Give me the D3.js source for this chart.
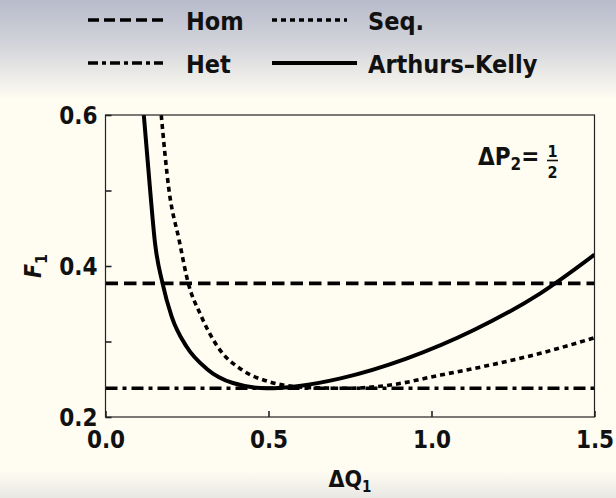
<!DOCTYPE html>
<html>
<head>
<meta charset="utf-8">
<script src="https://cdn.jsdelivr.net/npm/d3@7"></script>
<style>
  body { margin: 0; }
  text { font-family: 'DejaVu Sans Condensed', 'DejaVu Sans', sans-serif; font-weight: bold; fill: #111; }
</style>
</head>
<body>
<svg id="chart" width="616" height="498"></svg>
<script>
// Fidelity F1 versus ΔQ1 at ΔP2 = 1/2
const homLevel = 0.377;
const hetLevel = 0.238;

const akQ = [0.1175, 0.137, 0.152, 0.175, 0.203, 0.249, 0.310, 0.391, 0.494, 0.60, 0.721, 0.925, 1.130, 1.334, 1.500];
const akF = [0.600, 0.500, 0.430, 0.377, 0.333, 0.293, 0.264, 0.245, 0.238, 0.2415, 0.2512, 0.2777, 0.3152, 0.3638, 0.4150];

const seqQ = [0.171, 0.194, 0.226, 0.254, 0.291, 0.344, 0.420, 0.500, 0.576, 0.66, 0.74, 0.874, 1.028, 1.181, 1.334, 1.500];
const seqF = [0.600, 0.503, 0.434, 0.377, 0.336, 0.293, 0.262, 0.247, 0.2405, 0.2385, 0.238, 0.2424, 0.2556, 0.2689, 0.2844, 0.3050];

const xTicks = [0, 0.5, 1.0, 1.5];
const yTicks = [0.2, 0.3, 0.4, 0.5, 0.6];
const yLabelled = [0.2, 0.4, 0.6];

const legendNames = ["Hom", "Seq.", "Het", "Arthurs\u2013Kelly"];

const W = 616, H = 498;
const margin = { left: 105.5, right: 616 - 594.5, top: 115, bottom: 498 - 417 };

const svg = d3.select("#chart");

// page background: cool grey at the top fading to cream, light grey at the foot
const defs = svg.append("defs");
const grad = defs.append("linearGradient").attr("id", "bg").attr("x1", 0).attr("y1", 0).attr("x2", 0).attr("y2", 1);
[[0, "#b7bbcb"], [0.09, "#d3d4da"], [0.2, "#fffdf2"], [0.945, "#fffdf2"], [1, "#e8e7e3"]]
  .forEach(([o, c]) => grad.append("stop").attr("offset", o).attr("stop-color", c));
svg.append("rect").attr("width", W).attr("height", H).attr("fill", "url(#bg)");

const x = d3.scaleLinear().domain([0, 1.5]).range([margin.left, W - margin.right]);
const y = d3.scaleLinear().domain([0.2, 0.6]).range([H - margin.bottom, margin.top]);

defs.append("clipPath").attr("id", "plot")
  .append("rect")
  .attr("x", x(0)).attr("y", y(0.6))
  .attr("width", x(1.5) - x(0)).attr("height", y(0.2) - y(0.6));

const styles = {
  "Hom": { dash: "12.5,6", legendDash: "11,5", width: 3.6 },
  "Seq.": { dash: "5,4", legendDash: "5,4", width: 3.6 },
  "Het": { dash: "12,5,4,5", legendDash: "10,4,4,4", width: 3.6 },
  "Arthurs\u2013Kelly": { dash: null, legendDash: null, width: 4 }
};

const g = svg.append("g").attr("clip-path", "url(#plot)");

function hline(level, name) {
  g.append("line")
    .attr("x1", x(0)).attr("x2", x(1.5))
    .attr("y1", y(level)).attr("y2", y(level))
    .attr("stroke", "#000").attr("stroke-width", styles[name].width)
    .attr("stroke-dasharray", styles[name].dash);
}
hline(homLevel, "Hom");
hline(hetLevel, "Het");

const line = d3.line()
  .x(d => x(d[0])).y(d => y(d[1]))
  .curve(d3.curveMonotoneX);

g.append("path")
  .datum(d3.zip(seqQ, seqF))
  .attr("d", line).attr("fill", "none")
  .attr("stroke", "#000").attr("stroke-width", styles["Seq."].width)
  .attr("stroke-dasharray", styles["Seq."].dash);

g.append("path")
  .datum(d3.zip(akQ, akF))
  .attr("d", line).attr("fill", "none")
  .attr("stroke", "#000").attr("stroke-width", styles["Arthurs\u2013Kelly"].width);

// frame
svg.append("rect")
  .attr("x", x(0)).attr("y", y(0.6))
  .attr("width", x(1.5) - x(0)).attr("height", y(0.2) - y(0.6))
  .attr("fill", "none").attr("stroke", "#222").attr("stroke-width", 1.2);

// axes with inward ticks
const yAxis = d3.axisLeft(y).tickValues(yTicks).tickSizeInner(-6).tickSizeOuter(0).tickPadding(8)
  .tickFormat(d => yLabelled.some(v => Math.abs(v - d) < 1e-9) ? d3.format(".1f")(d) : "");
const ya = svg.append("g").attr("transform", `translate(${x(0)},0)`).call(yAxis);
ya.select(".domain").remove();
ya.selectAll(".tick line").attr("stroke", "#222").attr("stroke-width", 1.6);
ya.selectAll(".tick text").attr("font-size", 24).attr("dy", "0.36em");

const xAxis = d3.axisBottom(x).tickValues(xTicks).tickSizeInner(-6).tickSizeOuter(0).tickPadding(14)
  .tickFormat(d3.format(".1f"));
const xa = svg.append("g").attr("transform", `translate(0,${y(0.2)})`).call(xAxis);
xa.select(".domain").remove();
xa.selectAll(".tick line").attr("stroke", "#222").attr("stroke-width", 1.6);
xa.selectAll(".tick text").attr("font-size", 24).attr("dy", "0.71em");
svg.selectAll(".tick text").attr("font-family", null).attr("fill", "#111");

// axis titles
const xt = svg.append("text").attr("x", (x(0) + x(1.5)) / 2).attr("y", 487)
  .attr("text-anchor", "middle").attr("font-size", 23);
xt.append("tspan").text("\u0394Q");
xt.append("tspan").attr("font-size", 15).attr("dy", 5).text("1");

const yt = svg.append("text")
  .attr("transform", `translate(41,266) rotate(-90)`)
  .attr("text-anchor", "middle").attr("font-size", 23);
yt.append("tspan").attr("font-style", "italic").text("F");
yt.append("tspan").attr("font-size", 16).attr("dy", 6).text("1");

// ΔP2 = 1/2 annotation
const ann = svg.append("text").attr("x", 478).attr("y", 165).attr("font-size", 24);
ann.append("tspan").text("\u0394P");
ann.append("tspan").attr("font-size", 17).attr("dy", 5).text("2");
ann.append("tspan").attr("dy", -5).text("=");
svg.append("text").attr("x", 552.5).attr("y", 157).attr("text-anchor", "middle").attr("font-size", 16).text("1");
svg.append("line").attr("x1", 547).attr("x2", 558).attr("y1", 160.5).attr("y2", 160.5)
  .attr("stroke", "#111").attr("stroke-width", 1.6);
svg.append("text").attr("x", 552.5).attr("y", 178).attr("text-anchor", "middle").attr("font-size", 16).text("2");

// legend: two rows, two columns
const legendPos = [
  { sx: 88, tx: 186, ry: 20 },
  { sx: 272, tx: 368, ry: 20 },
  { sx: 88, tx: 186, ry: 63 },
  { sx: 272, tx: 368, ry: 63 }
];
legendNames.forEach((name, i) => {
  const p = legendPos[i];
  const len = name === "Arthurs\u2013Kelly" ? 85 : 75;
  svg.append("line")
    .attr("x1", p.sx).attr("x2", p.sx + len)
    .attr("y1", p.ry).attr("y2", p.ry)
    .attr("stroke", "#000").attr("stroke-width", styles[name].width)
    .attr("stroke-dasharray", styles[name].legendDash);
  svg.append("text").attr("x", p.tx).attr("y", p.ry + 9.5)
    .attr("font-size", 25).text(name);
});
</script>
</body>
</html>
